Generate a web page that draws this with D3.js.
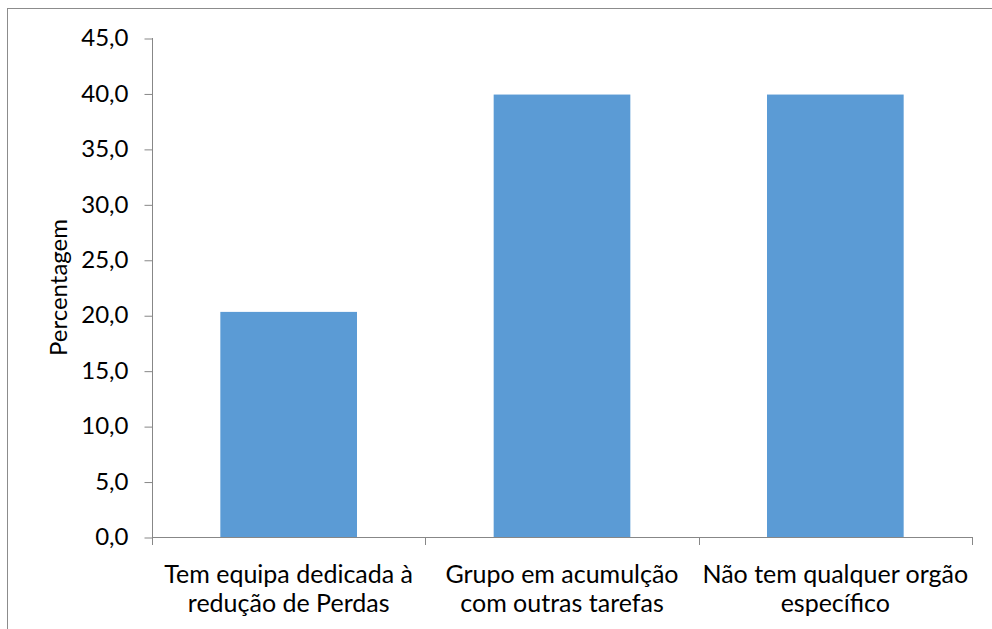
<!DOCTYPE html>
<html>
<head>
<meta charset="utf-8">
<script src="https://cdn.jsdelivr.net/npm/d3@7"></script>
<style>
  html, body { margin: 0; padding: 0; background: #fff; }
  svg { display: block; }
</style>
</head>
<body>
<script>
// ---- data ----
const categories = [
  ["Tem equipa dedicada à", "redução de Perdas"],
  ["Grupo em acumulção", "com outras tarefas"],
  ["Não tem qualquer orgão", "específico"]
];
const values = [20.3, 39.9, 39.9];
const yTicks = [0, 5, 10, 15, 20, 25, 30, 35, 40, 45];
const yTitle = "Percentagem";

// ---- layout ----
const W = 992, H = 629;
const x0 = 152, x1 = 972, yTop = 38, yBottom = 537;
const FONT = "Lato, 'Open Sans', sans-serif";
const axisColor = "#878787";

const svg = d3.select("body").append("svg")
  .attr("width", W).attr("height", H);

// chart border
svg.append("rect")
  .attr("x", 7.5).attr("y", 8.5)
  .attr("width", W + 20).attr("height", H + 20)
  .attr("fill", "none").attr("stroke", "#8c8c8c").attr("stroke-width", 1);

const idx = categories.map((d, i) => i);
const x = d3.scaleBand().domain(idx).range([x0, x1]).paddingInner(0.5).paddingOuter(0.25);
const xb = d3.scaleBand().domain(idx).range([x0, x1]);
const y = d3.scaleLinear().domain([0, 45]).range([yBottom, yTop]);

// bars
svg.append("g").selectAll("rect")
  .data(values)
  .join("rect")
  .attr("x", (d, i) => x(i))
  .attr("width", x.bandwidth())
  .attr("y", d => y(d))
  .attr("height", d => y(0) - y(d))
  .attr("fill", "#5B9BD5");

// y axis
const fmt = d => d3.format(".1f")(d).replace(".", ",");
const yAxis = d3.axisLeft(y).tickValues(yTicks).tickFormat(fmt).tickSize(8).tickPadding(16);
const gy = svg.append("g").attr("transform", `translate(${x0 + 0.5},0)`).call(yAxis);
gy.select(".domain").remove();
gy.append("line").attr("x1", 0).attr("x2", 0).attr("y1", yTop).attr("y2", yBottom + 8)
  .attr("stroke", axisColor);
gy.selectAll(".tick line").attr("stroke", axisColor).attr("transform", "translate(0,0.5)");
gy.selectAll(".tick text")
  .attr("fill", "#000").style("font-family", FONT).style("font-size", "24px");

// x axis
const gx = svg.append("g");
gx.append("line").attr("x1", x0).attr("x2", x1).attr("y1", yBottom + 0.5).attr("y2", yBottom + 0.5)
  .attr("stroke", axisColor);
const bounds = idx.map(i => xb(i)).concat([x1]);
gx.selectAll("line.tk").data(bounds).join("line").attr("class", "tk")
  .attr("x1", d => Math.round(d) + 0.5).attr("x2", d => Math.round(d) + 0.5)
  .attr("y1", yBottom).attr("y2", yBottom + 8)
  .attr("stroke", axisColor);

const lbl = gx.selectAll("text.cat").data(categories).join("text").attr("class", "cat")
  .attr("text-anchor", "middle")
  .style("font-family", FONT).style("font-size", "25px").attr("fill", "#000");
lbl.each(function(lines, i) {
  const t = d3.select(this);
  lines.forEach((ln, j) => {
    t.append("tspan").attr("x", xb(i) + xb.bandwidth() / 2).attr("y", 583 + j * 29).text(ln);
  });
});

// y title
svg.append("text")
  .attr("transform", `translate(67,${(yTop + yBottom) / 2}) rotate(-90)`)
  .attr("text-anchor", "middle")
  .style("font-family", FONT).style("font-size", "24px").attr("fill", "#000")
  .text(yTitle);
</script>
</body>
</html>
